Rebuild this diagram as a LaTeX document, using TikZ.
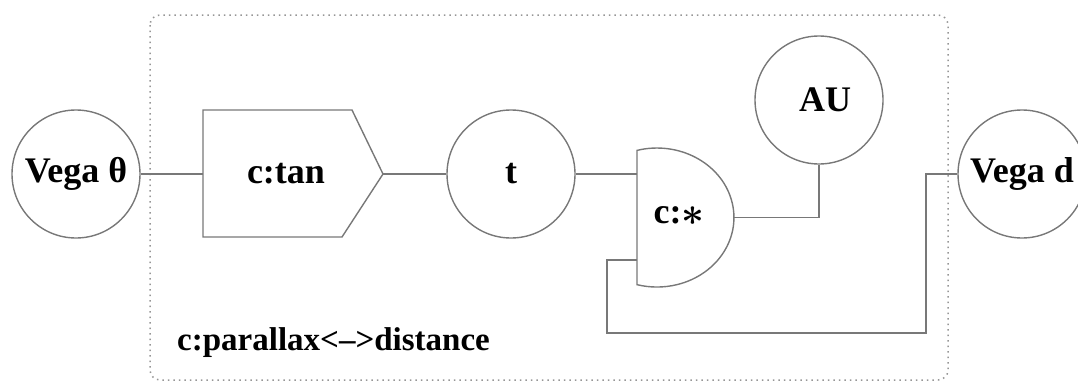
\documentclass[tikz,border=0pt]{standalone}
\usepackage{fontspec}
\setmainfont{Liberation Serif}
\newcommand\lblfont{\bfseries\fontsize{36}{40}\selectfont}
\definecolor{lc}{RGB}{120,120,120}
\definecolor{dc}{RGB}{150,150,150}
\begin{document}
\begin{tikzpicture}[x=1pt,y=-1pt,
  line/.style={draw=lc,line width=1.4pt},
  circ/.style={circle,draw=lc,line width=1.4pt,minimum size=128pt,inner sep=0pt,font=\lblfont},
  lbl/.style={font=\lblfont,inner sep=0pt}]
\useasboundingbox (0,0) rectangle (1078,383);
% group frame
\draw[draw=dc,line width=1.5pt,dash pattern=on 1.5pt off 4pt,rounded corners=10pt] (150,15) rectangle (948,380);
% circles
\node[circ] (vt) at (76,174) {Vega θ};
\node[circ] (t) at (511,174) {t};
\node[circ] (au) at (819,100) {\hspace{12pt}AU};
\node[circ] (vd) at (1022,174) {Vega d};
% c:tan pentagon
\coordinate (p1) at (203,110);
\coordinate (p2) at (352,110);
\coordinate (p3) at (383,174);
\coordinate (p4) at (342,237);
\coordinate (p5) at (203,237);
\coordinate (tanin) at (203,174);
\draw[line] (p1) -- (p2) -- (p3) -- (p4) -- (p5) -- cycle;
\node[lbl] (tan) at (286,174) {c:tan};
% c:* D shape
\draw[line] (637,150.4) arc[start angle=-105,end angle=105,x radius=77,y radius=69.5] -- cycle;
\coordinate (mulin1) at (637,174);
\coordinate (mulin2) at (637,260);
\coordinate (mulout) at (734,217.5);
\node[lbl] (mul) at (679,216) {c:\raisebox{-1.5pt}{\scalebox{1.6}{\boldmath$\ast$}}};
% loop corners
\coordinate (k1) at (607,333);
\coordinate (k2) at (926,333);
% connectors
\draw[line] (vt.east) -- (tanin);
\draw[line] (p3) -- (t.west);
\draw[line] (t.east) -- (mulin1);
\draw[line] (mulout) -| (au.south);
\draw[line] (mulin2) -| (k1) -- (k2) |- (vd.west);
% label
\node[lbl,anchor=west,font=\bfseries\fontsize{33}{37}\selectfont] (title) at (177,343) {c:parallax<–>distance};
\end{tikzpicture}
\end{document}
